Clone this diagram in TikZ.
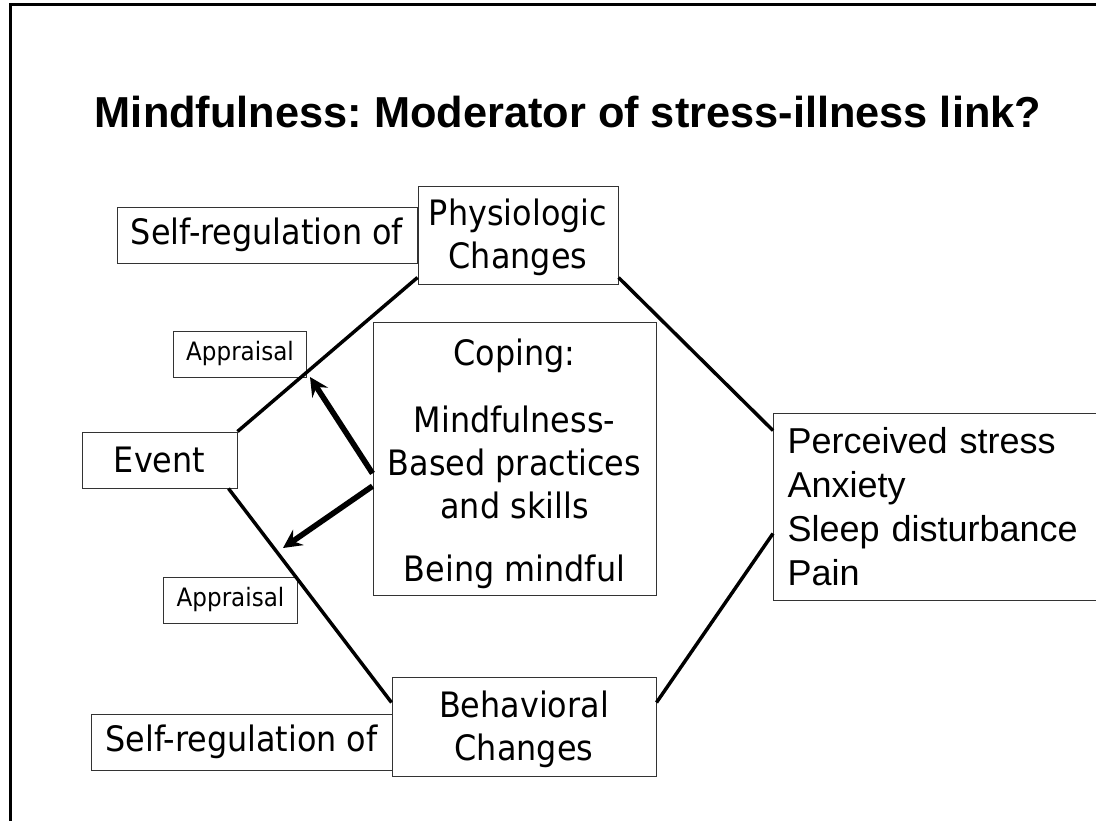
\documentclass[tikz,border=0pt]{standalone}
\usepackage{fontspec}
\setmainfont{Liberation Sans}
\newfontfamily\boxfont{DejaVu Sans}[FakeStretch=0.91]
\usepackage{tikz}
\usetikzlibrary{arrows.meta,positioning}
\frenchspacing

\begin{document}
\begin{tikzpicture}[x=0.75pt,y=-0.75pt,>={Stealth[length=14pt,width=14pt,inset=5pt]},
    box/.style={draw=black!80,line width=0.75pt,inner sep=0pt,align=center,
      font=\boxfont\fontsize{26.25}{32.25}\selectfont},
    tag/.style={box,font=\boxfont\fontsize{19}{23}\selectfont,
      minimum width=100pt,minimum height=34.5pt},
    link/.style={line width=2.6pt},
    pull/.style={->,line width=4.2pt}]
        \useasboundingbox (0,0) rectangle (1096,821);
        \draw[line width=2.25pt] (10.5,821) -- (10.5,4.5) -- (1096,4.5);

        \node[anchor=base,font=\bfseries\fontsize{32.5}{39}\selectfont] (title) at (568,127)
          {Mindfulness: Moderator of stress-illness link?};

        \node[box,minimum width=150pt,minimum height=73.5pt] (phys) at (518,235)
          {\rule{0pt}{24pt}Physiologic\\Changes};
        \node[box,minimum width=225pt,minimum height=42pt] (selftop) [left=0pt of phys] {Self-regulation of};
        \node[tag] (appup) at (240,354) {Appraisal};
        \node[box,minimum width=116.25pt,minimum height=42pt] (event) at (159.5,460) {Event};
        \node[box,minimum width=212.25pt,minimum height=204.75pt] (coping) at (514.5,458.5)
          {\rule{0pt}{28pt}Coping:\\[18pt]Mindfulness-\\Based practices\\and skills\\[14.5pt]Being mindful};
        \node[tag] (appdown) at (230.5,600) {Appraisal};
        \node[box,minimum width=198pt,minimum height=74.25pt] (beh) at (524,726.5)
          {\rule{0pt}{24pt}Behavioral\\Changes};
        \node[box,minimum width=225.75pt,minimum height=42pt] (selfbot) at (241.5,742) {Self-regulation of};
        \node[box,anchor=west,align=left,inner xsep=10.5pt,text width=231.75pt,minimum height=140.25pt,
          font=\fontsize{27}{33}\selectfont] (outcome) at (773,506.5)
          {Perceived stress\\Anxiety\\Sleep disturbance\\Pain};

        \coordinate (tipup) at (310,377);
        \coordinate (tipdown) at (283,548);

        \draw[link] (event.north east) -- ([yshift=5.25pt]phys.south west);
        \draw[link] ([xshift=-6.75pt]event.south east) -- ([yshift=-19.5pt]beh.north west);
        \draw[link] ([yshift=5.25pt]phys.south east) -- ([yshift=-13.5pt]outcome.north west);
        \draw[link] ([yshift=-19.5pt]beh.north east) -- ([yshift=50.25pt]outcome.south west);

        \draw[pull] (coping.186.65) -- (tipup);
        \draw[pull] (coping.191.8) -- (tipdown);
      \end{tikzpicture}
\end{document}
